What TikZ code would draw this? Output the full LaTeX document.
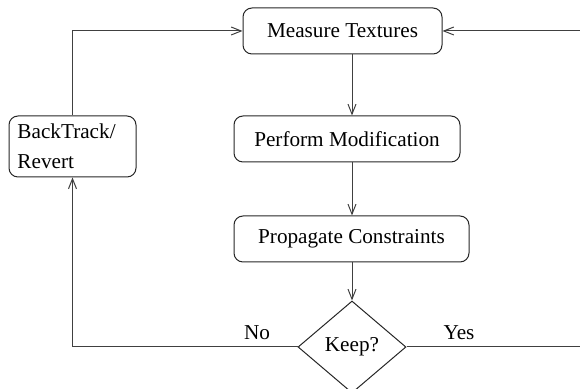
\documentclass[tikz,border=0pt]{standalone}
\usepackage{fontspec}
\setmainfont{Liberation Serif}
\usetikzlibrary{shapes.geometric,arrows.meta}
\tikzset{
  box/.style={draw=black!85, rounded corners=4.5pt, line width=0.5pt, inner sep=0pt, align=center,
    font=\fontsize{10.6}{15}\selectfont},
  dec/.style={draw=black!85, diamond, line width=0.5pt, inner sep=0pt, minimum width=54pt, minimum height=46pt,
    font=\fontsize{10.6}{13}\selectfont},
  lbl/.style={font=\fontsize{10.6}{13}\selectfont, inner sep=0pt},
  conn/.style={line width=0.5pt, draw=black!75},
  arr/.style={conn, -{Straight Barb[length=5pt,width=4pt]}}
}
\begin{document}
\begin{tikzpicture}[x=0.5pt,y=-0.5pt]
\useasboundingbox (0,0) rectangle (580,389);
\node[box, minimum width=99.5pt, minimum height=23pt] (m) at (342.5,31) {Measure Textures};
\node[box, minimum width=113pt, minimum height=23pt] (p) at (347,139) {Perform Modification};
\node[box, minimum width=117.5pt, minimum height=23pt] (c) at (351.5,239) {Propagate Constraints};
\node[dec] (k) at (352,347) {Keep?};
\node[box, minimum width=63.5pt, minimum height=30.5pt, align=left, text width=55pt] (b) at (72.5,146.5) {BackTrack/\\Revert};
\node[lbl] (no) at (257,333) {No};
\node[lbl] (yes) at (459,333) {Yes};
\coordinate (r1) at (583,347);
\coordinate (r2) at (583,31);
\draw[arr] (m.south -| k) -- (p.north -| k);
\draw[arr] (p.south -| k) -- (c.north -| k);
\draw[arr] (c.south -| k) -- (k.north);
\draw[arr] (k.west) -| (b.south);
\draw[arr] (b.north) |- (m.west);
\draw[arr] (k.east) -- (r1) -- (r2) -- (m.east);
\end{tikzpicture}
\end{document}
